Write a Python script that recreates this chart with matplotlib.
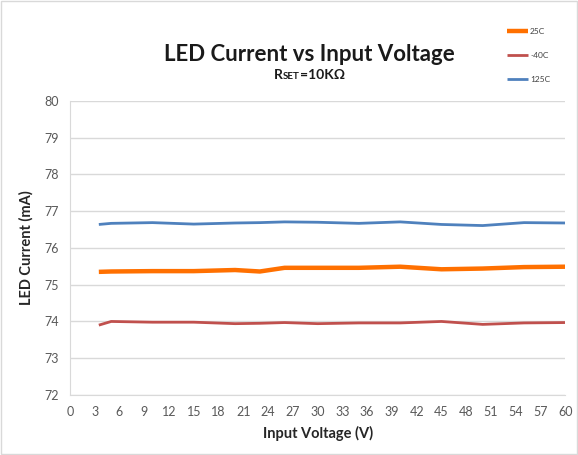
import matplotlib
matplotlib.use("Agg")
import matplotlib.pyplot as plt
from matplotlib.patches import Rectangle

plt.rcParams['font.family'] = ['Lato', 'DejaVu Sans']

voltage = [3.5, 5, 10, 15, 20, 23, 26, 30, 35, 40, 45, 50, 55, 60]
i_25c = [75.35, 75.36, 75.37, 75.37, 75.40, 75.36, 75.46, 75.46, 75.46, 75.49, 75.42, 75.44, 75.48, 75.49]
i_m40c = [73.90, 74.00, 73.98, 73.98, 73.94, 73.95, 73.97, 73.94, 73.96, 73.96, 74.00, 73.92, 73.96, 73.97]
i_125c = [76.64, 76.67, 76.69, 76.65, 76.68, 76.69, 76.71, 76.70, 76.67, 76.71, 76.64, 76.61, 76.69, 76.68]

x_ticks = list(range(0, 61, 3))
y_ticks = list(range(72, 81))

fig = plt.figure(figsize=(5.78, 4.55), dpi=100)
fig.patches.append(Rectangle((0.002, 0.002), 0.996, 0.996, transform=fig.transFigure,
                             fill=False, edgecolor='#d9d9d9', linewidth=1))
ax = fig.add_axes([0.121, 0.132, 0.857, 0.646])

ax.plot(voltage, i_25c, color='#ff7000', linewidth=3.2, label='25C', solid_capstyle='butt')
ax.plot(voltage, i_m40c, color='#c0504d', linewidth=2.0, label='-40C', solid_capstyle='butt')
ax.plot(voltage, i_125c, color='#4f81bd', linewidth=2.0, label='125C', solid_capstyle='butt')

ax.set_xlim(0, 60)
ax.set_ylim(72, 80)
ax.set_xticks(x_ticks)
ax.set_yticks(y_ticks)
ax.tick_params(axis='both', length=0, labelsize=9, colors='#595959', pad=8)
ax.grid(axis='y', color='#d9d9d9', linewidth=1)
ax.set_axisbelow(True)
for s in ['top', 'right']:
    ax.spines[s].set_visible(False)
for s in ['left', 'bottom']:
    ax.spines[s].set_color('#d9d9d9')

ax.set_xlabel('Input Voltage (V)', fontsize=10.5, fontweight='bold', color='#262626', labelpad=6)
ax.set_ylabel('LED Current (mA)', fontsize=10.5, fontweight='bold', color='#262626', labelpad=8)

fig.text(0.535, 0.88, 'LED Current vs Input Voltage', ha='center', va='center',
         fontsize=16, fontweight='bold', color='#1a1a1a')

# subtitle with small-caps style "SET"
renderer = fig.canvas.get_renderer()
parts = [('R', 10), ('SET', 7), ('=10KΩ', 10)]
texts = [fig.text(0, 0.826, s, ha='left', va='baseline', fontsize=fs,
                  fontweight='bold', color='#1a1a1a') for s, fs in parts]
widths = [t.get_window_extent(renderer).width / fig.bbox.width for t in texts]
x = 0.535 - sum(widths) / 2
for t, w in zip(texts, widths):
    t.set_x(x)
    x += w

leg = fig.legend(loc='upper left', bbox_to_anchor=(0.865, 0.955), frameon=False,
                 fontsize=6, handlelength=2.5, labelspacing=2.05, handletextpad=0.2,
                 labelcolor='#404040')

fig.savefig('out.png', dpi=100)
